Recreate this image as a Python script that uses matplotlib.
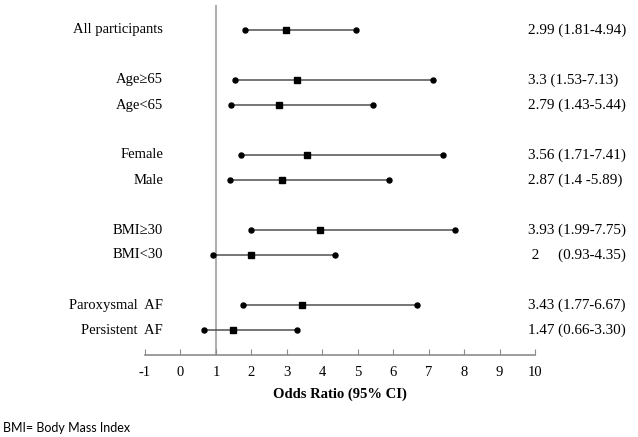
import matplotlib
matplotlib.use("Agg")
import matplotlib.pyplot as plt

labels = ["All participants", "Age\u226565", "Age<65", "Female", "Male",
          "BMI\u226530", "BMI<30", "Paroxysmal  AF", "Persistent  AF"]
groups = [0, 1, 1, 2, 2, 3, 3, 4, 4]
or_vals = [2.99, 3.3, 2.79, 3.56, 2.87, 3.93, 2.0, 3.43, 1.47]
ci_low = [1.81, 1.53, 1.43, 1.71, 1.4, 1.99, 0.93, 1.77, 0.66]
ci_high = [4.94, 7.13, 5.44, 7.41, 5.89, 7.75, 4.35, 6.67, 3.30]
ci_text = ["2.99 (1.81-4.94)", "3.3 (1.53-7.13)", "2.79 (1.43-5.44)",
           "3.56 (1.71-7.41)", "2.87 (1.4 -5.89)", "3.93 (1.99-7.75)",
           " 2     (0.93-4.35)", "3.43 (1.77-6.67)", "1.47 (0.66-3.30)"]
xticks = list(range(-1, 11))

plt.rcParams['font.family'] = ['Liberation Serif', 'DejaVu Serif']

W, H = 638, 437
fig = plt.figure(figsize=(W / 100, H / 100), dpi=100)
ax_left, ax_right, ax_top, ax_bot = 145, 535, 5, 355
ax = fig.add_axes([ax_left / W, 1 - ax_bot / H, (ax_right - ax_left) / W, (ax_bot - ax_top) / H])

# row positions: index + group gaps
ypos = [i + g for i, g in enumerate(groups)]

ax.set_xlim(-1, 10)
ax.set_ylim(13, -1)
ax.axvline(1, color='#b0b0b0', lw=1.5, zorder=1)

for y, o, lo, hi in zip(ypos, or_vals, ci_low, ci_high):
    ax.plot([lo, hi], [y, y], color='#505050', lw=1.1, zorder=2)
    ax.plot([lo, hi], [y, y], 'o', color='black', ms=3.6, zorder=3, ls='none')
    ax.plot([o], [y], 's', color='black', ms=3.8, zorder=3)

for s in ['top', 'right', 'left']:
    ax.spines[s].set_visible(False)
ax.spines['bottom'].set_color('#8c8c8c')
ax.spines['bottom'].set_linewidth(1.2)
ax.set_yticks([])
ax.set_xticks(xticks)
ax.set_xticklabels([str(t) for t in xticks], fontsize=10.5)
ax.tick_params(axis='x', direction='in', length=4, color='#8c8c8c', pad=8)
ax.set_xlabel("Odds Ratio (95% CI)", fontsize=10.5, fontweight='bold', labelpad=6)

for y, lab, txt in zip(ypos, labels, ci_text):
    ax.text(-0.49, y, lab, ha='right', va='center', fontsize=10.5)
    fig.text(528 / W, 1 - (30 + 25 * y) / H, txt, ha='left', va='center', fontsize=10.9)

fig.text(3 / W, 1 - 428 / H, "BMI= Body Mass Index", ha='left', va='center',
         fontsize=9, family=['Lato', 'DejaVu Sans'])

fig.savefig("out.png", dpi=100)
